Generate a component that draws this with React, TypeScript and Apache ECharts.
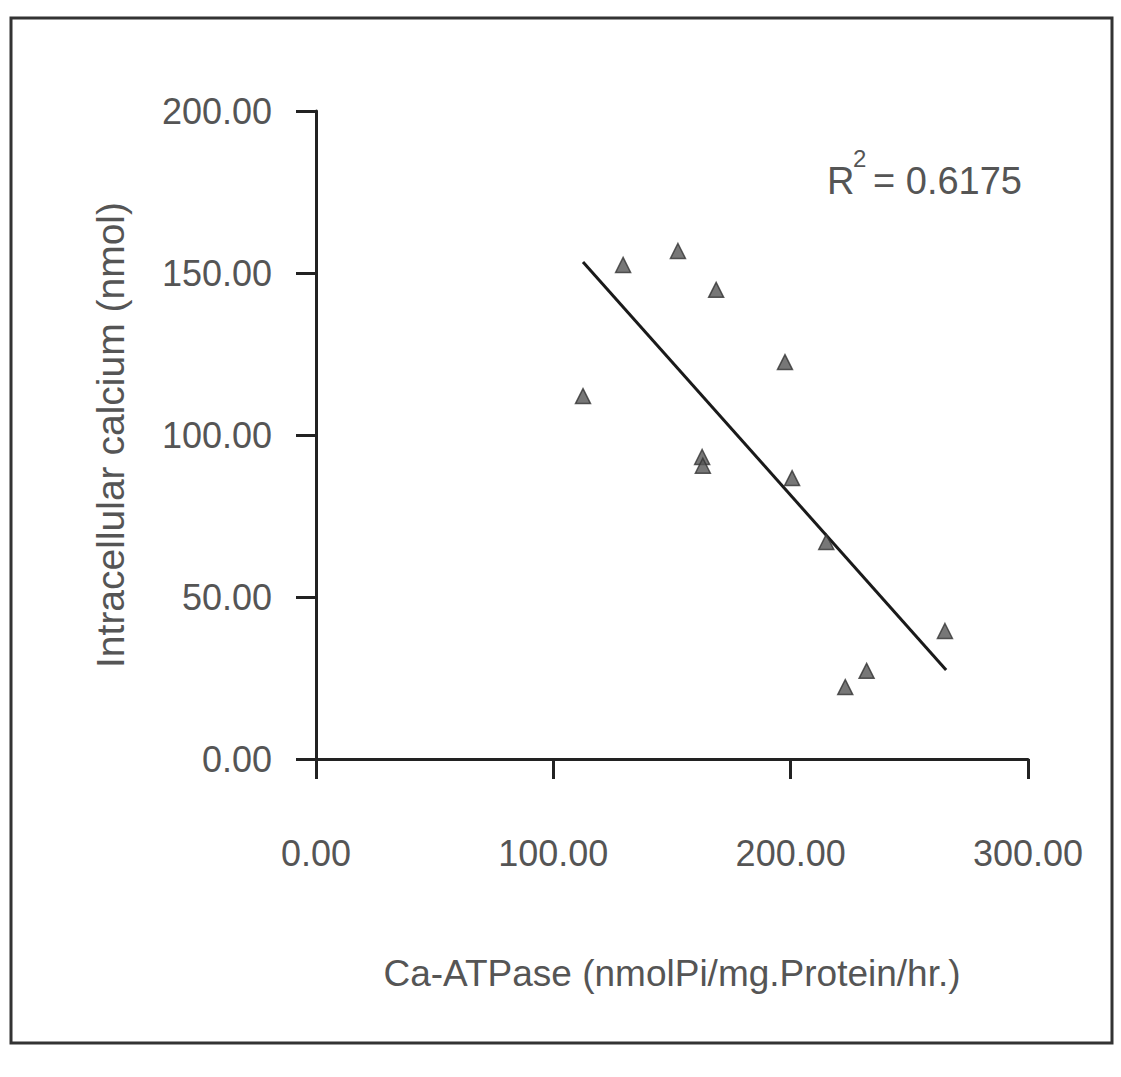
import React, { useEffect, useRef } from "react";
import * as echarts from "echarts";

const xValues = [112.5, 129.4, 152.5, 168.6, 197.6, 162.7, 163.0, 200.6, 215.0, 223.0, 232.0, 265.0];
const yValues = [112.0, 152.5, 156.8, 144.8, 122.5, 93.2, 90.5, 86.7, 67.0, 22.2, 27.2, 39.5];
const trendX = [112.5, 265.5];
const trendY = [153.4, 27.5];
const xTitle = "Ca-ATPase (nmolPi/mg.Protein/hr.)";
const yTitle = "Intracellular calcium (nmol)";
const r2Value = "0.6175";

const FONT = "'Liberation Sans', Arial, sans-serif";
const TEXT = "#555";

export default function App() {
  const ref = useRef<HTMLDivElement>(null);
  useEffect(() => {
    document.body.style.margin = "0";
    const chart = echarts.init(ref.current!, null, { renderer: "svg" });
    const axisCommon = {
      axisLine: { show: true, lineStyle: { color: "#222", width: 3 } },
      axisTick: { show: true, inside: false, length: 20, lineStyle: { color: "#222", width: 3 } },
      splitLine: { show: false },
      axisLabel: {
        color: TEXT,
        fontFamily: FONT,
        fontSize: 36,
        formatter: (v: number) => v.toFixed(2),
      },
    };
    chart.setOption({
      animation: false,
      backgroundColor: "#fff",
      grid: { left: 316, right: 93, top: 111, bottom: 318, containLabel: false },
      xAxis: {
        type: "value",
        min: 0,
        max: 300,
        interval: 100,
        ...axisCommon,
        axisLabel: { ...axisCommon.axisLabel, margin: 76 },
        name: xTitle,
        nameLocation: "middle",
        nameGap: 196,
        nameTextStyle: { color: TEXT, fontFamily: FONT, fontSize: 37 },
      },
      yAxis: {
        type: "value",
        min: 0,
        max: 200,
        interval: 50,
        ...axisCommon,
        axisLabel: { ...axisCommon.axisLabel, margin: 44 },
        name: yTitle,
        nameLocation: "middle",
        nameGap: 186,
        nameTextStyle: { color: TEXT, fontFamily: FONT, fontSize: 39 },
      },
      series: [
        {
          type: "line",
          data: trendX.map((x, i) => [x, trendY[i]]),
          symbol: "none",
          lineStyle: { color: "#1a1a1a", width: 3 },
          z: 2,
        },
        {
          type: "scatter",
          data: xValues.map((x, i) => [x, yValues[i]]),
          symbol: "triangle",
          symbolSize: 15,
          itemStyle: { color: "#555", borderColor: "#333", borderWidth: 1.5 },
          z: 3,
        },
      ],
      graphic: [
        {
          type: "rect",
          shape: { x: 11, y: 18, width: 1101, height: 1025 },
          style: { fill: "none", stroke: "#333", lineWidth: 3 },
          z: -1,
        },
        {
          type: "text",
          left: 827,
          top: 162,
          style: { text: "R", fill: TEXT, font: `38px ${FONT}` },
        },
        {
          type: "text",
          left: 853,
          top: 146,
          style: { text: "2", fill: TEXT, font: `24px ${FONT}` },
        },
        {
          type: "text",
          left: 873,
          top: 162,
          style: { text: "= " + r2Value, fill: TEXT, font: `38px ${FONT}` },
        },
      ],
    });
    return () => chart.dispose();
  }, []);
  return <div ref={ref} style={{ width: 1121, height: 1077 }} />;
}
